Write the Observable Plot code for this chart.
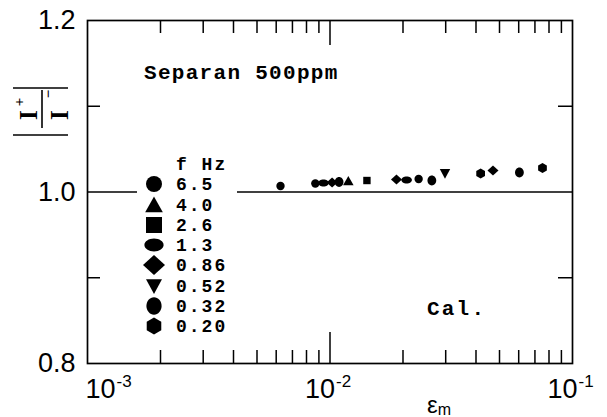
<!DOCTYPE html>
<html><head><meta charset="utf-8">
<script src="https://cdn.jsdelivr.net/npm/d3@7"></script>
<script src="https://cdn.jsdelivr.net/npm/@observablehq/plot@0.6"></script>
<style>
body{margin:0;background:#fff}
#chart{position:relative;width:607px;height:417px}
</style>
</head><body><div id="chart"></div>
<script>
// ---- data ----
const freqLabels = ["6.5","4.0","2.6","1.3","0.86","0.52","0.32","0.20"];
const eps_6_5  = [0.00625, 0.0087, 0.0232];
const ratio_6_5 = [1.0070, 1.0099, 1.0151];
const eps_4_0  = [0.0119];
const ratio_4_0 = [1.0128];
const eps_2_6  = [0.0142];
const ratio_2_6 = [1.0134];
const eps_1_3  = [0.0094, 0.0207];
const ratio_1_3 = [1.0105, 1.0140];
const eps_0_86 = [0.0102, 0.0188, 0.0470];
const ratio_0_86 = [1.0111, 1.0146, 1.0250];
const eps_0_52 = [0.0298];
const ratio_0_52 = [1.0216];
const eps_0_32 = [0.0109, 0.0263, 0.0604];
const ratio_0_32 = [1.0117, 1.0134, 1.0227];
const eps_0_20 = [0.0418, 0.0752];
const ratio_0_20 = [1.0216, 1.0280];
const calValue = [1.0];
const xMajor = [1e-3, 1e-2, 1e-1];
const xExp = ["-3", "-2", "-1"];
const xMinor = [2e-3,3e-3,4e-3,5e-3,6e-3,7e-3,8e-3,9e-3,2e-2,3e-2,4e-2,5e-2,6e-2,7e-2,8e-2,9e-2];
const yTickValues = [0.8, 1.0, 1.2];
const yMinor = [0.9, 1.1];

const epsSeries = [eps_6_5, eps_4_0, eps_2_6, eps_1_3, eps_0_86, eps_0_52, eps_0_32, eps_0_20];
const ratioSeries = [ratio_6_5, ratio_4_0, ratio_2_6, ratio_1_3, ratio_0_86, ratio_0_52, ratio_0_32, ratio_0_20];

// ---- symbols ----
function sym(fn){ return {draw(ctx, size){ const r = Math.sqrt(size/Math.PI); fn(ctx, r); }}; }
function poly(ctx, pts){ ctx.moveTo(pts[0][0], pts[0][1]); for (let i=1;i<pts.length;i++) ctx.lineTo(pts[i][0], pts[i][1]); ctx.closePath(); }
function ell(ctx, rx, ry){ const k=0.5523; ctx.moveTo(rx,0);
  ctx.bezierCurveTo(rx, ry*k, rx*k, ry, 0, ry);
  ctx.bezierCurveTo(-rx*k, ry, -rx, ry*k, -rx, 0);
  ctx.bezierCurveTo(-rx, -ry*k, -rx*k, -ry, 0, -ry);
  ctx.bezierCurveTo(rx*k, -ry, rx, -ry*k, rx, 0); ctx.closePath(); }
const symbols = [
  sym((c,r)=>{ c.moveTo(r,0); c.arc(0,0,r,0,2*Math.PI); }),
  sym((c,r)=>poly(c, [[0,-1.05*r],[1.1*r,0.9*r],[-1.1*r,0.9*r]])),
  sym((c,r)=>poly(c, [[-r,-r],[r,-r],[r,r],[-r,r]])),
  sym((c,r)=>ell(c, 1.2*r, 0.8*r)),
  sym((c,r)=>poly(c, [[0,-1.25*r],[1.375*r,0],[0,1.25*r],[-1.375*r,0]])),
  sym((c,r)=>poly(c, [[-r,-0.85*r],[r,-0.85*r],[0,r]])),
  sym((c,r)=>ell(c, 0.95*r, 1.08*r)),
  sym((c,r)=>{ const R=1.05*r; const p=[]; for(let k=0;k<6;k++){ const a=(-90+60*k)*Math.PI/180; p.push([R*Math.cos(a), R*Math.sin(a)]); } poly(c,p); })
];
const dataR = [4.2, 4.8, 3.7, 4.4, 4.0, 5.2, 4.6, 4.8];

const dotMarks = freqLabels.map((f, i) => {
  const rows = epsSeries[i].map((e, j) => ({eps: e, ratio: ratioSeries[i][j], f}));
  return Plot.dot(rows, {x: "eps", y: "ratio", symbol: symbols[i], r: dataR[i], fill: "black", stroke: "none"});
});

const FW = 485, FH = 343;
const sans = "Liberation Sans, Arial, sans-serif";
const chart = Plot.plot({
  width: 607, height: 417,
  marginLeft: 87, marginRight: 35, marginTop: 20, marginBottom: 54,
  x: {type: "log", domain: [1e-3, 1e-1], axis: null},
  y: {domain: [0.8, 1.2], axis: null},
  style: {background: "white", color: "black"},
  marks: [
    Plot.ruleY(calValue, {stroke: "black", strokeWidth: 1.5}),
    Plot.ruleX(xMinor, {stroke: "black", strokeWidth: 1.5, insetTop: FH - 13}),
    Plot.ruleX(xMinor, {stroke: "black", strokeWidth: 1.5, insetBottom: FH - 13}),
    Plot.ruleX([xMajor[1]], {stroke: "black", strokeWidth: 1.5, insetTop: FH - 31}),
    Plot.ruleX([xMajor[1]], {stroke: "black", strokeWidth: 1.5, insetBottom: FH - 25}),
    Plot.ruleY(yMinor, {stroke: "black", strokeWidth: 1.5, insetRight: FW - 13}),
    Plot.ruleY(yMinor, {stroke: "black", strokeWidth: 1.5, insetLeft: FW - 14}),
    Plot.frame({stroke: "black", strokeWidth: 1.7}),
    ...dotMarks,
    Plot.text(yTickValues, {y: d => d, frameAnchor: "left", textAnchor: "end", dx: -12, text: d => d.toFixed(1),
      fontSize: 27, fontFamily: sans, fill: "black", ariaLabel: "ytick"}),
    Plot.text(xMajor.slice(1), {x: d => d, frameAnchor: "bottom", text: () => "10", textAnchor: "start", dx: -25, dy: 34,
      lineAnchor: "bottom", fontSize: 27, fontFamily: sans, fill: "black", ariaLabel: "xtick"}),
    Plot.text(xMajor.slice(1), {x: d => d, frameAnchor: "bottom", text: (d, i) => xExp[i + 1], textAnchor: "start", dx: 6, dy: 23,
      lineAnchor: "bottom", fontSize: 17, fontFamily: sans, fill: "black"}),
    Plot.text(xMajor.slice(0, 1), {x: d => d, frameAnchor: "bottom", text: () => "10", textAnchor: "start", dx: -2, dy: 34,
      lineAnchor: "bottom", fontSize: 27, fontFamily: sans, fill: "black", ariaLabel: "xtick"}),
    Plot.text(xMajor.slice(0, 1), {x: d => d, frameAnchor: "bottom", text: (d, i) => xExp[i], textAnchor: "start", dx: 29, dy: 23,
      lineAnchor: "bottom", fontSize: 17, fontFamily: sans, fill: "black"})
  ]
});
document.getElementById("chart").appendChild(chart);

const svg = d3.select(chart);
svg.selectAll('g[aria-label="ytick"] text').attr("letter-spacing", "-2px");
svg.selectAll('g[aria-label="xtick"] text').attr("letter-spacing", "-1px");

const mono = "Liberation Mono, Courier New, monospace";
// annotations
svg.append("text").attr("x", 144).attr("y", 79).attr("text-anchor", "start").attr("font-family", mono).attr("font-weight", "bold")
  .attr("font-size", 21).attr("letter-spacing", "1.3px").attr("fill", "black").text("Separan 500ppm");
svg.append("text").attr("x", 427).attr("y", 315).attr("text-anchor", "start").attr("font-family", mono).attr("font-weight", "bold")
  .attr("font-size", 21).attr("letter-spacing", "2.2px").attr("fill", "black").text("Cal.");

// legend
const lg = svg.append("g");
lg.append("rect").attr("x", 137).attr("y", 155).attr("width", 100).attr("height", 185).attr("fill", "white");
lg.append("text").attr("x", 176).attr("y", 170).attr("text-anchor", "start").attr("font-family", mono).attr("font-weight", "bold")
  .attr("font-size", 18).attr("letter-spacing", "2px").attr("fill", "black").text("f Hz");
const rowY = [184, 205, 225, 245, 265, 286, 306, 326];
freqLabels.forEach((f, i) => {
  lg.append("path").attr("transform", `translate(154,${rowY[i]})`)
    .attr("d", d3.symbol(symbols[i], Math.PI * 64)()).attr("fill", "black");
  lg.append("text").attr("x", 176).attr("y", rowY[i] + 6).attr("text-anchor", "start").attr("font-family", mono).attr("font-weight", "bold")
    .attr("font-size", 18).attr("letter-spacing", "2px").attr("fill", "black").text(f);
});

// y-axis label |I+/I-| (rotated)
const serif = "Liberation Serif, Times New Roman, serif";
const yl = svg.append("g").attr("fill", "black").attr("stroke", "black");
yl.append("line").attr("x1", 13).attr("x2", 68).attr("y1", 88).attr("y2", 88).attr("stroke-width", 1.6);
yl.append("line").attr("x1", 13).attr("x2", 68).attr("y1", 135).attr("y2", 135).attr("stroke-width", 1.6);
yl.append("line").attr("x1", 42).attr("x2", 42).attr("y1", 90).attr("y2", 128).attr("stroke-width", 1.6);
function rtext(x, y, size, weight, t){
  yl.append("text").attr("x", x).attr("y", y).attr("transform", `rotate(-90 ${x} ${y})`)
    .attr("text-anchor", "middle").attr("font-family", serif).attr("font-size", size)
    .attr("font-weight", weight).attr("stroke", "none").text(t);
}
rtext(37, 115, 25, "bold", "I");
rtext(24, 102, 15, "bold", "+");
rtext(68, 115, 25, "bold", "I");
rtext(53, 94, 15, "bold", "\u2212");

// x-axis label ε_m
const xl = svg.append("text").attr("x", 427).attr("y", 413).attr("text-anchor", "start").attr("font-family", sans).attr("fill", "black");
xl.append("tspan").attr("font-size", 24).text("\u03b5");
xl.append("tspan").attr("font-size", 16).attr("dy", 2).text("m");
</script>
</body></html>
